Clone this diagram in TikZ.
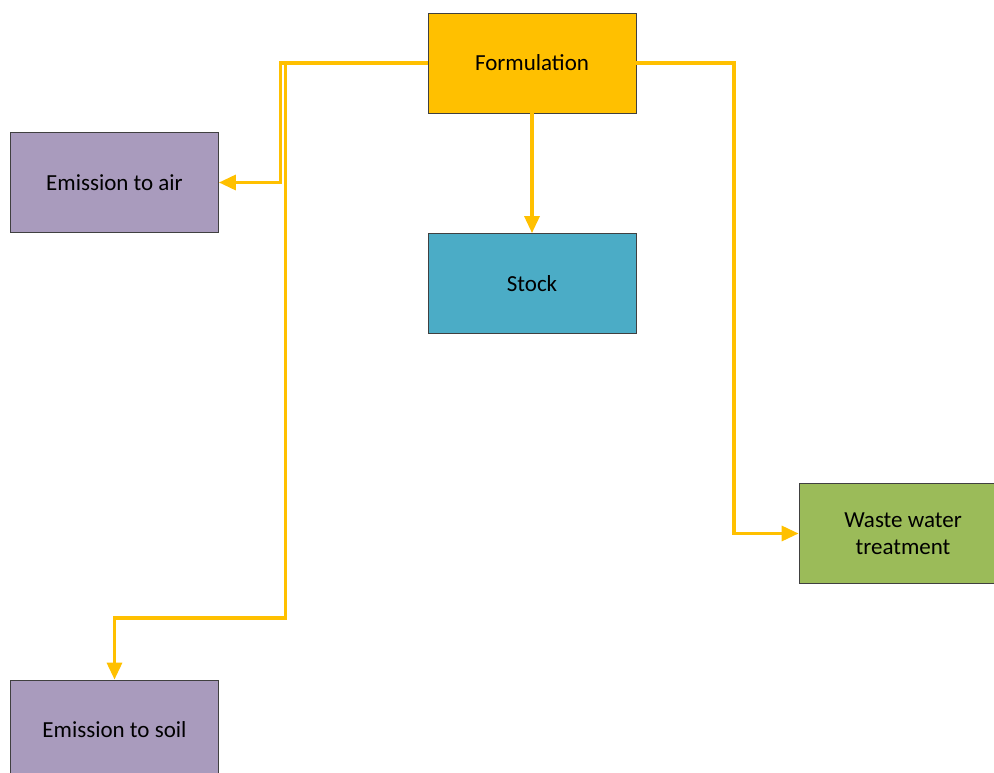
\documentclass[tikz,border=0pt]{standalone}
\usepackage{fontspec}
\setmainfont{Carlito}
\usetikzlibrary{positioning}
\usetikzlibrary{calc}
\usetikzlibrary{arrows.meta}
\definecolor{floworange}{HTML}{FFC000}
\definecolor{airpurple}{HTML}{A99BBD}
\definecolor{stockblue}{HTML}{4BACC6}
\definecolor{watergreen}{HTML}{9BBB59}
\tikzset{
    box/.style={draw=black!75, line width=0.8pt, minimum width=208pt, minimum height=100pt,
        inner sep=0pt, align=center, font=\fontsize{23}{27}\selectfont},
    flow/.style={draw=floworange, line width=3.3pt, -{Triangle[length=17pt, width=15pt]}},
}
\begin{document}
\begin{tikzpicture}[x=1pt, y=-1pt]
            \useasboundingbox (0,0) rectangle (994,773);

            \node[box, fill=floworange] (formulation) at (532,63) {Formulation};
            \node[box, fill=airpurple] (air) at (114.5,182.5) {Emission to air};
            \node[box, fill=stockblue] (stock) at (532,283.5) {Stock};
            \node[box, fill=watergreen] (water) at (903,533.5) {Waste water\\treatment};
            \node[box, fill=airpurple] (soil) at (114.5,730) {Emission to soil};

            \coordinate (air_bend) at (280.5,63);
            \coordinate (soil_bend) at (285.5,618);
            \coordinate (water_bend) at (734,63);

            \draw[flow] (formulation.west) -- (air_bend) |- (air.east);
            \draw[flow] (formulation.west) -| (soil_bend) -| (soil.north);
            \draw[flow] (formulation.south) -- (stock.north);
            \draw[flow] (formulation.east) -- (water_bend) |- (water.west);
        \end{tikzpicture}
\end{document}
